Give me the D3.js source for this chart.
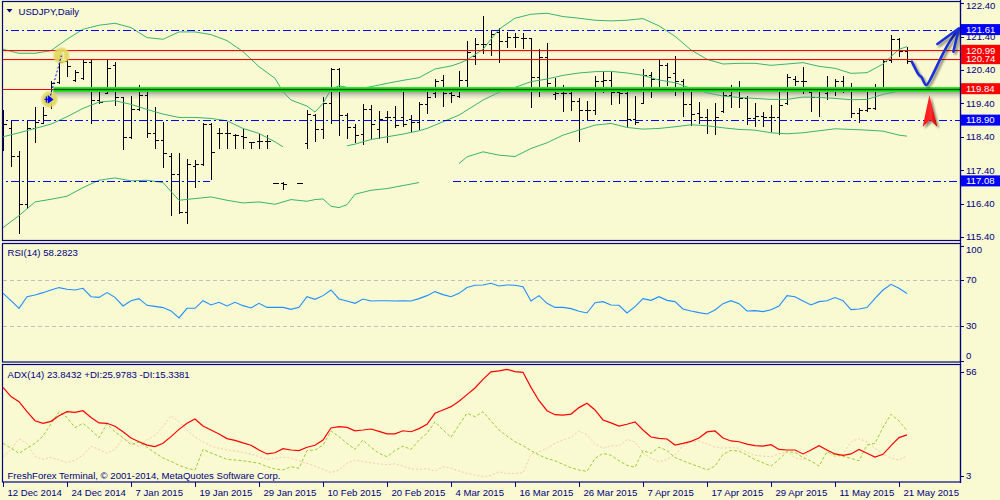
<!DOCTYPE html>
<html>
<head>
<meta charset="utf-8">
<script src="https://cdn.jsdelivr.net/npm/d3@7"></script>
<style>
  body { margin: 0; background: #fafad2; }
  svg { display: block; }
  text { font-family: "Liberation Sans", Arial, sans-serif; font-size: 9.6px; fill: #000080; }
</style>
</head>
<body>
<div id="chart"></div>
<script>
// ---- data (bar index 0 = 12 Dec 2014) ----
const chartTitle = "USDJPY,Daily";
const rsiTitle = "RSI(14) 58.2823";
const adxTitle = "ADX(14) 23.8432 +DI:25.9783 -DI:15.3381";
const copyright = "FreshForex Terminal, \u00a9 2001-2014, MetaQuotes Software Corp.";

const dateTickIdx = [0, 8, 16, 24, 32, 40, 48, 56, 64, 72, 80, 88, 96, 104, 112];
const dateTickLabels = ["12 Dec 2014", "24 Dec 2014", "7 Jan 2015", "19 Jan 2015", "29 Jan 2015",
  "10 Feb 2015", "20 Feb 2015", "4 Mar 2015", "16 Mar 2015", "26 Mar 2015", "7 Apr 2015",
  "17 Apr 2015", "29 Apr 2015", "11 May 2015", "21 May 2015"];
const priceTicks = [122.40, 121.40, 120.40, 119.40, 118.40, 117.40, 116.40, 115.40];
const rsiTicks = [100, 70, 30, 0];
const rsiLevels = [70, 30];
const adxTicks = [56, 3];

// OHLC bars (null = no bar drawn)
const opens = [119.05,118.67,117.83,116.38,118.65,118.82,119.50,120.05,120.67,120.10,120.17,120.64,119.50,119.72,120.55,119.58,118.40,119.22,119.64,118.52,
  118.30,117.84,117.30,116.14,117.53,117.60,118.78,118.50,118.50,118.45,118.42,118.23,118.27,118.27,117.03,117.03,null,117.03,118.20,119.05,
  118.62,119.40,120.43,119.05,118.70,118.47,119.22,118.62,118.98,119.00,118.98,118.93,118.85,119.38,119.70,120.10,119.70,119.63,120.10,120.82,
  121.18,121.18,121.55,121.27,121.40,121.37,121.35,120.20,120.78,119.67,119.70,119.70,119.48,119.20,119.20,120.08,120.10,119.73,119.70,118.93,
  119.42,120.25,120.12,120.55,120.30,120.08,119.37,119.10,119.00,118.90,119.17,119.65,119.88,119.55,118.95,119.02,119.00,119.00,119.40,120.13,
  120.08,119.75,119.58,119.70,119.80,120.07,119.85,119.12,119.20,119.25,119.85,120.70,121.32,120.98];
const highs = [119.20,118.90,117.98,118.90,119.30,119.30,120.07,120.85,120.70,120.40,120.70,120.70,119.80,120.72,120.63,119.60,119.62,119.95,119.85,119.28,
  118.84,117.92,117.92,117.75,117.70,118.82,118.80,118.67,118.83,118.47,118.62,118.25,118.48,118.45,117.03,117.05,null,117.03,119.20,119.07,
  119.58,120.47,120.45,119.12,118.78,119.38,119.35,119.17,119.17,119.32,119.82,119.05,119.45,119.75,120.14,120.24,119.80,120.37,121.27,121.37,
  122.02,121.58,121.65,121.53,121.50,121.50,121.37,121.03,121.20,120.15,119.95,119.80,119.55,119.48,120.22,120.37,120.33,119.90,119.82,119.63,
  120.43,120.35,120.72,120.62,120.82,120.12,119.73,119.43,119.22,119.40,119.80,119.95,120.08,119.63,119.40,119.13,119.35,119.88,120.28,120.23,
  120.48,119.80,119.82,120.22,120.12,120.23,120.00,119.25,119.80,119.98,120.72,121.45,121.35,121.08];
const lows = [118.00,117.53,115.52,116.28,118.23,118.80,119.27,120.00,120.22,120.07,120.13,118.82,119.40,119.70,119.34,118.02,118.37,119.20,118.38,118.07,
  117.50,116.05,116.12,115.82,116.90,117.57,117.13,118.07,118.07,118.07,118.07,118.07,118.07,118.07,117.01,116.83,null,117.02,118.07,118.28,
  118.37,118.82,118.45,118.37,118.23,118.18,118.37,118.37,118.25,118.70,118.73,118.58,118.63,119.10,119.60,119.33,119.43,119.60,119.85,120.57,
  120.90,120.85,120.63,121.10,121.10,121.07,119.28,119.62,119.85,119.53,119.18,119.20,118.28,118.92,119.08,119.75,119.38,119.40,118.68,118.77,
  119.40,119.60,119.82,119.95,119.65,119.03,118.75,118.80,118.52,118.48,119.15,119.30,119.30,118.78,118.72,118.72,118.58,118.47,119.37,119.95,
  119.70,119.17,119.03,119.53,119.65,119.75,119.00,118.85,119.17,119.23,119.78,120.65,120.82,120.62];
const closes = [118.78,117.84,116.38,118.65,118.85,119.05,120.02,120.63,120.53,120.35,120.63,119.50,119.45,120.45,119.60,118.38,119.22,119.64,118.52,118.30,
  117.90,117.30,116.14,117.60,117.60,118.78,117.94,118.50,118.50,118.45,118.40,118.23,118.27,118.27,117.03,117.00,null,117.03,119.07,118.62,
  119.40,120.43,119.05,118.70,118.45,119.22,118.78,118.93,119.00,118.75,118.78,118.85,119.38,119.60,120.08,119.70,119.65,120.10,120.95,121.18,
  121.18,121.47,121.27,121.40,121.38,121.35,120.20,120.78,120.00,119.70,119.70,119.48,119.20,119.20,120.08,120.10,119.73,119.70,118.93,118.85,
  120.25,120.12,120.55,120.20,120.08,119.37,119.08,118.98,118.90,118.98,119.65,119.87,119.55,118.95,119.02,119.00,119.00,119.35,120.18,120.08,
  120.08,119.58,119.78,119.82,120.07,119.85,119.12,119.20,119.25,119.87,120.68,121.32,120.98,120.68];

// Bollinger bands, read at these bar indices
const bandIdx = [0,2,4,6,8,10,12,14,16,18,20,22,24,26,28,30,32,34,35,36,38,39,40,41,42,43,44,46,48,50,52,53,54,56,57,58,60,62,64,66,
  68,70,72,74,76,78,80,82,84,86,88,90,92,94,96,98,100,102,104,106,108,110,112,113];
const bandUpper = [121.02,120.90,120.90,120.98,121.32,121.62,121.74,121.80,121.67,121.37,121.32,121.54,121.54,121.46,121.28,120.95,120.50,120.15,119.75,119.50,
  119.32,119.14,119.40,119.82,119.93,119.88,119.82,119.90,120.00,120.09,120.17,120.30,120.43,120.52,120.60,120.70,121.02,121.62,121.95,122.07,
  122.10,122.00,121.95,121.89,121.87,121.89,121.94,121.72,121.41,121.00,120.72,120.58,120.60,120.60,120.54,120.58,120.62,120.51,120.45,120.30,
  120.32,120.58,121.02,121.10];
const bandMiddle = [118.40,118.52,118.65,118.78,119.00,119.25,119.44,119.48,119.37,119.22,119.08,118.98,118.98,118.95,118.88,118.65,118.50,118.25,118.10,null,
  null,null,null,null,null,118.13,118.18,118.32,118.40,118.48,118.58,118.65,118.75,118.95,119.05,119.20,119.50,119.73,119.88,120.05,
  120.13,120.24,120.31,120.35,120.36,120.31,120.24,120.10,120.02,119.85,119.72,119.62,119.58,119.55,119.52,119.52,119.59,119.58,119.55,119.51,
  119.52,119.67,119.77,119.80];
const bandLower = [115.68,116.04,116.45,116.53,116.62,116.88,117.10,117.17,117.08,117.10,117.03,116.50,116.55,116.60,116.50,116.42,116.45,116.38,116.45,116.52,
  116.47,116.52,116.54,116.32,116.28,116.37,116.68,116.80,116.85,116.94,117.03,null,null,null,117.60,117.80,117.95,117.85,117.81,118.05,
  118.22,118.45,118.60,118.75,118.80,118.68,118.63,118.65,118.70,118.76,118.73,118.67,118.62,118.60,118.52,118.49,118.52,118.58,118.64,118.62,
  118.60,118.57,118.45,118.42];

// RSI(14), one value per bar
const rsi = [58.4,52.0,45.4,55.5,57.0,59.0,61.3,63.4,61.9,61.3,62.8,55.5,54.9,59.0,54.9,47.4,52.0,53.8,48.0,47.1,
  46.0,43.1,37.0,45.4,45.4,52.0,48.3,50.6,47.4,50.6,47.7,45.7,49.7,46.2,46.2,46.2,44.5,46.2,55.5,53.2,
  56.4,61.3,53.5,51.8,49.7,53.5,51.8,52.0,52.0,51.8,52.0,51.8,53.8,56.4,59.9,57.3,55.5,58.4,63.4,65.4,
  65.7,67.1,64.8,65.7,65.4,64.2,51.8,56.4,49.7,46.2,46.2,45.1,42.8,41.3,50.3,51.2,48.3,48.0,41.3,46.8,
  53.8,52.3,55.5,52.3,51.2,44.8,43.1,41.6,40.5,43.9,49.4,52.0,49.4,43.1,43.4,42.5,44.2,47.4,56.4,55.5,
  51.8,48.3,51.2,52.0,54.7,52.0,44.2,44.8,46.0,54.1,61.3,66.2,62.8,58.3];

// ADX(14), +DI, -DI, one value per bar
const adx = [48.0,43.3,40.7,35.6,31.0,29.7,30.7,33.6,35.6,35.3,36.1,32.7,29.9,29.7,28.2,25.4,22.2,20.3,18.6,17.8,
  19.5,22.9,26.6,29.7,31.9,28.3,26.3,24.3,21.9,21.0,19.7,18.5,16.1,14.1,14.7,16.8,16.1,15.8,17.5,18.5,
  21.2,27.3,28.0,27.6,25.9,26.3,26.8,25.6,24.3,24.3,25.9,25.4,27.0,29.2,34.8,36.5,38.2,40.9,44.3,47.7,
  52.1,55.9,56.4,57.2,56.0,55.7,48.0,41.2,36.1,34.1,33.9,34.4,37.7,39.9,36.5,31.4,29.9,28.3,29.2,30.4,
  26.3,22.7,22.0,21.7,18.6,19.5,20.5,22.2,25.3,25.8,22.2,20.7,20.3,19.1,18.3,18.1,18.8,16.4,16.1,16.1,
  14.1,16.1,18.3,16.1,14.1,13.4,14.1,16.4,14.4,12.5,13.9,18.3,22.4,23.8];
const plusDI = [19.5,17.0,14.4,17.0,19.5,23.2,29.4,35.6,32.7,27.5,29.7,26.3,22.4,29.4,25.4,22.4,18.8,20.2,17.5,14.7,
  12.0,10.3,8.3,6.8,5.9,16.4,14.6,13.0,11.3,11.0,10.6,10.0,9.3,7.6,6.4,5.9,7.6,6.8,15.8,16.1,
  18.6,25.8,22.9,19.5,16.4,21.2,17.5,14.4,12.7,15.8,18.1,16.4,21.2,24.6,30.5,26.3,22.6,28.8,34.8,33.1,
  35.6,30.9,26.3,23.2,20.3,18.3,15.8,13.5,11.8,10.6,8.8,7.1,5.9,5.2,11.8,14.4,13.4,10.6,8.3,7.3,
  15.8,14.4,17.5,15.8,12.3,10.6,9.0,7.6,5.9,7.9,13.9,15.8,15.6,13.5,11.3,9.6,7.9,11.3,15.2,14.9,
  12.3,10.5,7.9,15.2,13.5,12.9,11.8,10.6,18.6,19.5,27.6,34.3,30.9,26.0];
const minusDI = [12.7,16.4,21.7,19.5,12.7,11.3,12.4,11.0,9.6,11.0,13.5,18.1,16.4,14.4,16.4,22.0,19.9,17.8,21.2,23.6,
  28.0,33.5,30.5,26.3,22.6,20.3,18.1,17.0,16.1,15.6,14.9,14.1,12.7,11.3,11.7,12.5,12.0,10.5,9.3,7.9,
  6.3,4.6,5.9,9.3,11.0,10.2,9.6,9.0,8.6,9.1,7.9,6.4,6.3,6.6,5.4,7.6,6.9,5.4,4.2,3.4,
  2.5,3.2,5.0,4.0,4.2,4.4,14.1,15.1,17.0,19.5,21.2,22.6,25.8,23.8,19.2,17.0,18.3,18.1,21.5,20.2,
  14.7,11.8,10.2,11.2,13.5,18.3,20.2,20.7,19.2,17.6,17.1,17.3,17.0,14.9,13.4,13.0,12.7,14.2,15.4,12.0,
  11.0,16.1,18.5,15.2,12.7,13.9,20.3,21.9,20.3,17.0,13.9,12.0,11.0,13.2];

// horizontal levels drawn on the chart, with the span (bar indices) each covers
const levelPrices = [121.61, 120.74, 120.99, 119.84, 118.90, 117.08];
const levelStyles = ["blue", "red", "red", "green", "blue", "blue"];
const levelSpans = [[[-1, 125]], [[-1, 125]], [[-1, 125]], [[6.3, 125]], [[-1, 125]], [[-1, 25.9], [56.25, 125]]];

// trade marks (bar index, price)
const tradeOpen = [5.8, 119.52];
const tradeClose = [7.3, 120.83];

// hand-drawn forecast (bar index, price)
const forecastPath = [[113.6,120.65],[114.0,120.46],[114.5,120.25],[114.8,120.19],[115.4,119.95],[116.25,120.28],
  [117.1,120.70],[117.96,121.10],[118.75,121.40],[119.4,121.62]];
const forecastHead = [[116.8,121.18],[119.5,121.65],[118.8,120.95]];
const redArrow = [[115.8,119.65],[116.79,118.70],[115.9,118.90],[114.96,118.70]];

// ---- scales ----
const x = d3.scaleLinear().domain([0, 119.5]).range([3, 959]);
const y = d3.scaleLinear().domain([115.40, 122.40]).range([237, 3.2]);
const yRsi = d3.scaleLinear().domain([0, 100]).range([360.5, 245.5]);
const yAdx = d3.scaleLinear().domain([3, 56]).range([475.7, 371.7]);

const NAVY = "#000080";
const svg = d3.select("#chart").append("svg").attr("width", 1000).attr("height", 500);
const defs = svg.append("defs");

function clip(id, yy, h) {
  defs.append("clipPath").attr("id", id).append("rect")
    .attr("x", 3).attr("y", yy).attr("width", 957).attr("height", h);
}
clip("clipMain", 2, 238);
clip("clipRsi", 244, 118);
clip("clipAdx", 365, 117);

const shadow = defs.append("linearGradient").attr("id", "shadow")
  .attr("x1", 0).attr("y1", 0).attr("x2", 0).attr("y2", 1);
shadow.append("stop").attr("offset", "0%").attr("stop-color", "#6e6e6e").attr("stop-opacity", 0.75);
shadow.append("stop").attr("offset", "100%").attr("stop-color", "#bdbdbd").attr("stop-opacity", 0);

const glow = defs.append("radialGradient").attr("id", "glow");
glow.append("stop").attr("offset", "0%").attr("stop-color", "#e2da5a").attr("stop-opacity", 1);
glow.append("stop").attr("offset", "75%").attr("stop-color", "#e0d862").attr("stop-opacity", 0.9);
glow.append("stop").attr("offset", "100%").attr("stop-color", "#e0d862").attr("stop-opacity", 0.1);

const redGrad = defs.append("linearGradient").attr("id", "redGrad")
  .attr("x1", 0).attr("y1", 0).attr("x2", 1).attr("y2", 0);
redGrad.append("stop").attr("offset", "0%").attr("stop-color", "#ff1010");
redGrad.append("stop").attr("offset", "55%").attr("stop-color", "#ff2a2a");
redGrad.append("stop").attr("offset", "100%").attr("stop-color", "#c80000");

defs.append("filter").attr("id", "drop").attr("x", "-50%").attr("y", "-50%").attr("width", "200%").attr("height", "200%")
  .append("feDropShadow").attr("dx", 2).attr("dy", 2).attr("stdDeviation", 1.2)
  .attr("flood-color", "#000").attr("flood-opacity", 0.45);

// ---- main price panel ----
const main = svg.append("g").attr("clip-path", "url(#clipMain)");

// shadows under the solid levels
levelPrices.forEach((p, k) => {
  if (levelStyles[k] === "blue") return;
  const thick = levelStyles[k] === "green";
  levelSpans[k].forEach(([a, b]) => {
    main.append("rect")
      .attr("x", x(a)).attr("width", x(b) - x(a))
      .attr("y", y(p) + (thick ? 2 : 0.5)).attr("height", thick ? 9 : 3)
      .attr("fill", "url(#shadow)").attr("opacity", thick ? 1 : 0.35);
  });
});

// OHLC bars
const bars = d3.range(opens.length).filter(i => opens[i] !== null);
main.append("g")
  .selectAll("path")
  .data(bars)
  .join("path")
  .attr("d", i => {
    const cx = Math.round(x(i)) + 0.5;
    const yo = Math.round(y(opens[i])) + 0.5, yc = Math.round(y(closes[i])) + 0.5;
    return `M${cx},${Math.round(y(highs[i]))}V${Math.round(y(lows[i])) + 1}` +
      `M${cx - 3},${yo}H${cx}M${cx},${yc}H${cx + 3.5}`;
  })
  .attr("stroke", "#000").attr("stroke-width", 1).attr("fill", "none")
  .attr("shape-rendering", "crispEdges");

// Bollinger bands
const bandLine = d3.line()
  .defined(d => d[1] !== null)
  .x(d => x(d[0])).y(d => y(d[1]));
[bandUpper, bandMiddle, bandLower].forEach(band => {
  main.append("path")
    .attr("d", bandLine(bandIdx.map((i, k) => [i, band[k]])))
    .attr("fill", "none").attr("stroke", "#3cb371").attr("stroke-width", 1);
});

// horizontal levels
levelPrices.forEach((p, k) => {
  const style = levelStyles[k];
  levelSpans[k].forEach(([a, b]) => {
    const yy = Math.round(y(p)) + 0.5;
    if (style === "green") {
      main.append("line").attr("x1", x(a)).attr("x2", x(b)).attr("y1", yy).attr("y2", yy)
        .attr("stroke", "#22ee22").attr("stroke-width", 5);
      main.append("line").attr("x1", x(a)).attr("x2", x(b)).attr("y1", yy).attr("y2", yy)
        .attr("stroke", "#0b4d0b").attr("stroke-width", 1.3);
    } else {
      main.append("line").attr("x1", x(a)).attr("x2", x(b)).attr("y1", yy).attr("y2", yy)
        .attr("stroke", style === "red" ? "#ff0000" : "#0000ff").attr("stroke-width", 1)
        .attr("stroke-dasharray", style === "blue" ? "8,3,2,3" : null)
        .attr("shape-rendering", "crispEdges");
    }
  });
});
// red line under the start of the green level
main.append("line").attr("x1", x(-1)).attr("x2", x(levelSpans[3][0][0])).attr("y1", Math.round(y(levelPrices[3])) + 0.5)
  .attr("y2", Math.round(y(levelPrices[3])) + 0.5).attr("stroke", "#ff0000").attr("shape-rendering", "crispEdges");

// trade marks
[tradeOpen, tradeClose].forEach(([i, p]) => {
  main.append("circle").attr("cx", x(i)).attr("cy", y(p)).attr("r", 9).attr("fill", "url(#glow)");
});
main.append("line")
  .attr("x1", x(tradeOpen[0])).attr("y1", y(tradeOpen[1]))
  .attr("x2", x(tradeClose[0])).attr("y2", y(tradeClose[1]))
  .attr("stroke", "#0000ff").attr("stroke-dasharray", "2,2");
{
  const ox = x(tradeOpen[0]), oy = y(tradeOpen[1]);
  main.append("path")
    .attr("d", `M${ox - 5},${oy}H${ox + 1}M${ox - 1},${oy - 3}L${ox + 3},${oy}L${ox - 1},${oy + 3}ZM${ox - 3},${oy - 3}V${oy + 3}`)
    .attr("stroke", "#0000ff").attr("stroke-width", 1.3).attr("fill", "#0000ff");
  main.append("text").attr("x", x(tradeClose[0]) - 1).attr("y", y(tradeClose[1]) + 4)
    .style("fill", "#f4efc8").style("font-size", "11px").text("1");
}

// hand-drawn forecast and red arrow
const dataLine = d3.line().x(d => x(d[0])).y(d => y(d[1]));
main.append("path")
  .attr("d", dataLine.curve(d3.curveCatmullRom)(forecastPath))
  .attr("fill", "none").attr("stroke", "#1a2fd6").attr("stroke-width", 2.6)
  .attr("stroke-linecap", "round").attr("filter", "url(#drop)");
dataLine.curve(d3.curveLinear);
main.append("path")
  .attr("d", dataLine(forecastHead))
  .attr("fill", "none").attr("stroke", "#1a2fd6").attr("stroke-width", 2.6)
  .attr("stroke-linecap", "round").attr("stroke-linejoin", "round").attr("filter", "url(#drop)");
main.append("path")
  .attr("d", dataLine(redArrow) + "Z")
  .attr("fill", "url(#redGrad)").attr("filter", "url(#drop)");

// chart title
svg.append("path").attr("d", "M6.5,9H12.5L9.5,12.5Z").attr("fill", NAVY);
svg.append("text").attr("x", 18.5).attr("y", 14.5).text(chartTitle);

// ---- RSI panel ----
const rsiG = svg.append("g").attr("clip-path", "url(#clipRsi)");
rsiLevels.forEach(v => {
  rsiG.append("line").attr("x1", 3).attr("x2", 960)
    .attr("y1", Math.round(yRsi(v)) + 0.5).attr("y2", Math.round(yRsi(v)) + 0.5)
    .attr("stroke", "#c0c0c0").attr("stroke-dasharray", "4,3").attr("shape-rendering", "crispEdges");
});
rsiG.append("path")
  .attr("d", d3.line().x((d, i) => x(i)).y(d => yRsi(d))(rsi))
  .attr("fill", "none").attr("stroke", "#1e90ff").attr("stroke-width", 1.1);
svg.append("text").attr("x", 7.5).attr("y", 256).text(rsiTitle);

// ---- ADX panel ----
const adxG = svg.append("g").attr("clip-path", "url(#clipAdx)");
const adxLine = d3.line().x((d, i) => x(i)).y(d => yAdx(d));
adxG.append("path").attr("d", adxLine(minusDI))
  .attr("fill", "none").attr("stroke", "#f9c9ac").attr("stroke-width", 1).attr("stroke-dasharray", "2,2");
adxG.append("path").attr("d", adxLine(plusDI))
  .attr("fill", "none").attr("stroke", "#9acd32").attr("stroke-width", 1).attr("stroke-dasharray", "3,2");
adxG.append("path").attr("d", adxLine(adx))
  .attr("fill", "none").attr("stroke", "#ff0000").attr("stroke-width", 1.2);
svg.append("text").attr("x", 7.5).attr("y", 377.5).text(adxTitle);
svg.append("text").attr("x", 7.5).attr("y", 478.5).text(copyright);

// ---- frames ----
[[1.5, 239], [243.5, 118.5], [364.5, 117.5]].forEach(([top, h]) => {
  svg.append("rect").attr("x", 2.5).attr("y", top).attr("width", 958).attr("height", h)
    .attr("fill", "none").attr("stroke", NAVY).attr("stroke-width", 1.2);
});
svg.append("line").attr("x1", 960.5).attr("x2", 960.5).attr("y1", 0).attr("y2", 483)
  .attr("stroke", NAVY).attr("stroke-width", 1.2);

// ---- right axes ----
function axisLabels(ticks, scale, lo, hi, fmt) {
  ticks.forEach(v => {
    const yy = scale(v);
    const ty = Math.max(lo, Math.min(hi, yy));
    svg.append("line").attr("x1", 960).attr("x2", 964).attr("y1", Math.round(yy) + 0.5).attr("y2", Math.round(yy) + 0.5)
      .attr("stroke", NAVY).attr("shape-rendering", "crispEdges");
    svg.append("text").attr("x", 966).attr("y", ty).attr("dy", "0.35em").text(fmt(v));
  });
}
axisLabels(priceTicks, y, 5.5, 240, v => v.toFixed(2));
axisLabels(rsiTicks, yRsi, 250, 356, v => String(v));
axisLabels(adxTicks, yAdx, 370, 478, v => String(v));

// level price boxes
levelPrices.forEach((p, k) => {
  const yy = y(p);
  svg.append("rect").attr("x", 961).attr("y", yy - 5.5).attr("width", 39).attr("height", 11)
    .attr("fill", levelStyles[k] === "blue" ? "#0000ff" : "#ff0000");
  svg.append("text").attr("x", 966).attr("y", yy).attr("dy", "0.35em")
    .style("fill", "#ffffff").text(p.toFixed(2));
});

// ---- date axis ----
dateTickIdx.forEach((i, k) => {
  const xx = Math.round(x(i)) + 0.5;
  svg.append("line").attr("x1", xx).attr("x2", xx).attr("y1", 482).attr("y2", 487)
    .attr("stroke", NAVY).attr("shape-rendering", "crispEdges");
  svg.append("text").attr("x", xx + 4).attr("y", 495.5).text(dateTickLabels[k]);
});
</script>
</body>
</html>
